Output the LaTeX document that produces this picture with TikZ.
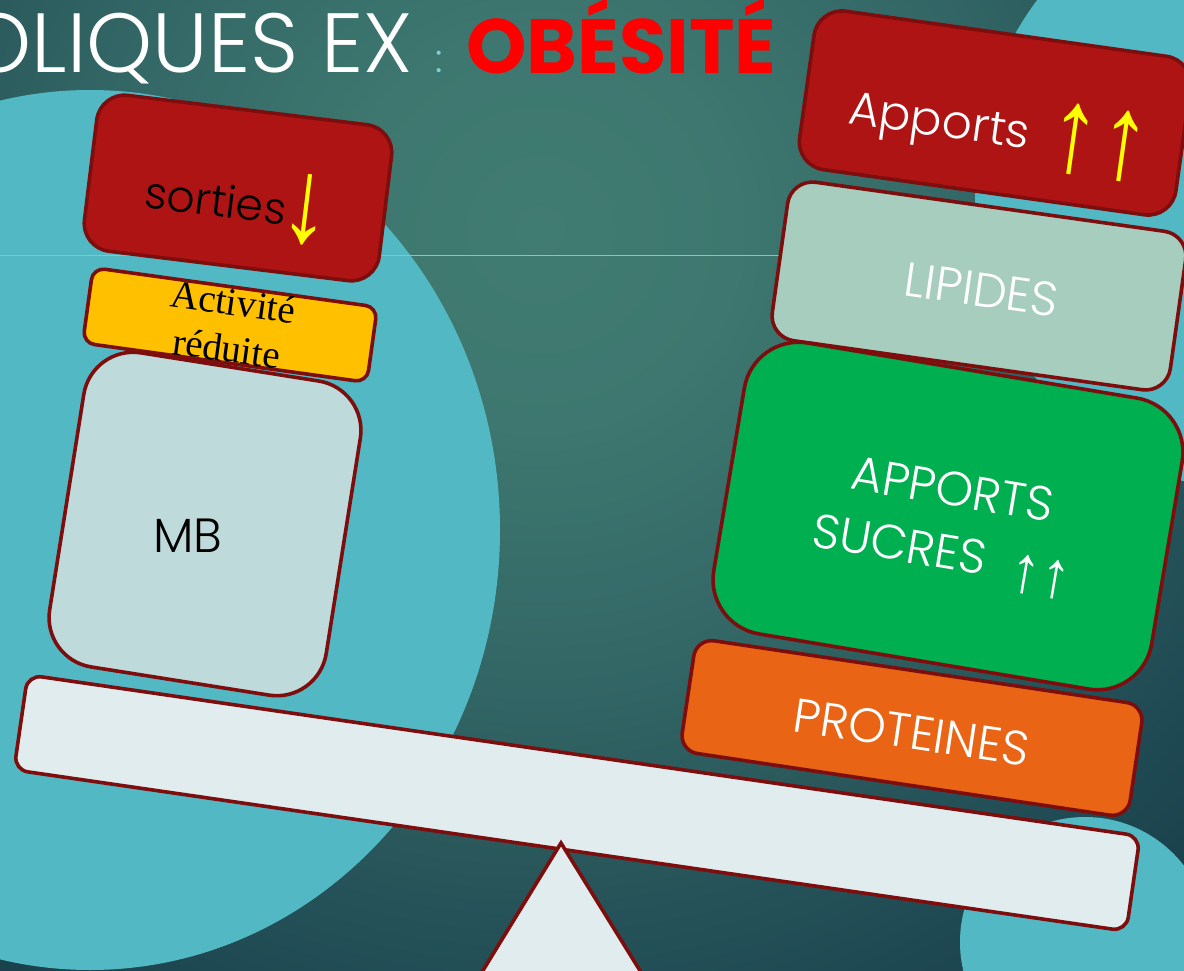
\documentclass[tikz,border=0pt]{standalone}
\usepackage{fontspec}
\IfFontExistsTF{Poppins Light}{\newfontfamily\gothic{Poppins Light}}{\newfontfamily\gothic{Poppins}}
\newfontfamily\gothicbf{Poppins}
\newfontfamily\arrowfont{Liberation Sans}
\newfontfamily\serifface{Liberation Serif}

\definecolor{bgA}{HTML}{417C72}
\definecolor{bgB}{HTML}{3D776F}
\definecolor{bgC}{HTML}{336766}
\definecolor{bgD}{HTML}{2B5A5C}
\definecolor{bgE}{HTML}{234F57}
\definecolor{bgF}{HTML}{1A424C}
\definecolor{bgG}{HTML}{143848}
\definecolor{discblue}{HTML}{52B9C4}
\definecolor{rule}{HTML}{8FC2B8}
\definecolor{colonblue}{HTML}{86CCD6}
\definecolor{titlered}{HTML}{FF0000}
\definecolor{edgered}{HTML}{7E0D0D}
\definecolor{boxred}{HTML}{AF1414}
\definecolor{boxyellow}{HTML}{FFC000}
\definecolor{boxgrey}{HTML}{BFDADB}
\definecolor{boxsage}{HTML}{A6CDBD}
\definecolor{boxgreen}{HTML}{00AF50}
\definecolor{boxorange}{HTML}{E96414}
\definecolor{beamfill}{HTML}{E0ECEE}
\definecolor{arrowyellow}{HTML}{FFFF00}

% glow of the backdrop; the shaded square spans -25bp..25bp
\pgfdeclareradialshading{bgglow}{\pgfpoint{0bp}{0bp}}{%
  color(0bp)=(bgA); color(4.5bp)=(bgB); color(10bp)=(bgC); color(13.5bp)=(bgD);
  color(16.5bp)=(bgE); color(20.5bp)=(bgF); color(25bp)=(bgG); color(50bp)=(bgG)}

% tall thin arrow glyphs
\newcommand{\uparr}[2]{{\arrowfont\fontsize{#1}{#1}\selectfont\scalebox{1}[#2]{↑}}}
\newcommand{\downarr}[2]{{\arrowfont\fontsize{#1}{#1}\selectfont\scalebox{1}[#2]{↓}}}

\tikzset{
  box/.style={draw=edgered, line width=3.6pt, inner sep=0pt, align=center},
  boxtext/.style={font=\gothic\fontsize{48}{58}\selectfont},
}

\begin{document}
\begin{tikzpicture}[x=1pt,y=-1pt]
\useasboundingbox (0,0) rectangle (1184,971);
\begin{scope}
  \clip (0,0) rectangle (1184,971);
  % backdrop
  \shade[shading=bgglow] (-560,-870) rectangle (1640,1330);
  \fill[discblue] (90,530) ellipse [x radius=410pt, y radius=440pt];
  \fill[discblue] (1250,190) ellipse [x radius=275pt, y radius=300pt];
  \fill[discblue] (1085,942) circle [radius=125pt];
  \draw[rule, line width=0.8pt] (0,255) -- (780,255);

  % heading
  \node[anchor=base east, inner sep=0pt, text=white,
        font=\gothic\fontsize{84}{84}\selectfont] (headA) at (413,73) {OLIQUES EX};
  \node[anchor=base, inner sep=0pt, text=colonblue,
        font=\gothic\fontsize{40}{40}\selectfont] (colon) at (439,73) {:};
  \node[anchor=base west, inner sep=0pt, text=titlered,
        font=\gothicbf\bfseries\fontsize{77}{77}\selectfont] (headB) at (466,74) {OBÉSITÉ};

  % balance
  \node[box, fill=beamfill, minimum width=1124pt, minimum height=96pt,
        rounded corners=14pt, rotate=-8.25] (beam) at (577,803) {};
  \draw[edgered, line width=3.6pt, fill=beamfill, line join=miter]
        (471,990) -- (561,843) -- (652,990) -- cycle;

  % left pan
  \node[box, fill=boxgrey, minimum width=280pt, minimum height=318pt,
        rounded corners=50pt, rotate=-9, boxtext, text height=73pt, text depth=0pt]
        (mb) at (205,524) {\rotatebox{9}{MB}\kern30pt};
  \node[box, fill=boxred, minimum width=297pt, minimum height=157pt,
        rounded corners=28pt, rotate=-7, font=\gothic\fontsize{44}{44}\selectfont,
        text height=62pt, text depth=0pt]
        (sorties) at (238,188)
        {sorties\kern-5pt\textcolor{arrowyellow}{\raisebox{-14pt}{\downarr{100}{1.2}}}\kern-4pt};
  \node[box, fill=boxyellow, minimum width=287pt, minimum height=76pt,
        rounded corners=12pt, rotate=-7.9, font=\serifface\fontsize{39}{47}\selectfont]
        (activite) at (230,325) {Activité\\réduite};

  % right pan
  \node[box, fill=boxred, minimum width=380pt, minimum height=160pt,
        rounded corners=28pt, rotate=-8, text=white,
        font=\gothic\fontsize{47}{47}\selectfont, text height=62pt, text depth=0pt]
        (apports) at (995,113)
        {Apports\hspace{20pt}\textcolor{arrowyellow}{\raisebox{-16pt}{\uparr{100}{1.2}\uparr{100}{1.2}}}\kern-12pt};
  \node[box, fill=boxsage, minimum width=402pt, minimum height=160pt,
        rounded corners=25pt, rotate=-8, boxtext, text=white,
        text height=40pt, text depth=0pt] (lipides) at (979,286) {LIPIDES\kern-6pt};
  \node[box, fill=boxgreen, minimum width=444pt, minimum height=295pt,
        rounded corners=55pt, rotate=-9.5, boxtext, text=white] (sucres) at (948,516)
        {\rule{0pt}{54pt}APPORTS\\[5pt]SUCRES\ \ \raisebox{-10pt}{\uparr{60}{1.1}\uparr{60}{1.1}}};
  \node[box, fill=boxorange, minimum width=453pt, minimum height=114pt,
        rounded corners=18pt, rotate=-8.5, boxtext, text=white,
        text height=42pt, text depth=0pt] (proteines) at (912,728) {PROTEINES};
\end{scope}
\end{tikzpicture}
\end{document}
